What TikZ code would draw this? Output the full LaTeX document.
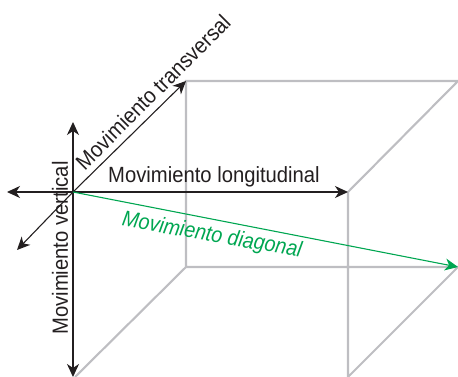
\documentclass[tikz,border=0pt]{standalone}
\usepackage{fontspec}
\setmainfont{Liberation Sans}
\usetikzlibrary{positioning, arrows.meta}
\definecolor{boxgray}{RGB}{190,190,194}
\definecolor{movegreen}{RGB}{0,166,81}
\definecolor{moveblack}{RGB}{35,31,32}
\tikzset{
    edgebox/.style={draw=boxgray, line width=2.1pt},
    move/.style={draw=moveblack, line width=1.1pt, -{Stealth[length=13pt,width=12pt,inset=4pt]}},
    movegr/.style={draw=movegreen, line width=1.1pt, -{Stealth[length=13pt,width=12pt,inset=4pt]}},
    lbl/.style={inner sep=0pt, font=\fontsize{22}{22}\selectfont, xscale=0.92, text=moveblack}
}
\begin{document}
\begin{tikzpicture}[x=1pt,y=-1pt]
\useasboundingbox (0,0) rectangle (458,377);
\coordinate (o) at (73,192);
\coordinate (left) at (7,192);
\coordinate (up) at (73,122);
\coordinate (down) at (73,377);
\coordinate (front) at (17,250);
\coordinate (backtl) at (186,81);
\coordinate (backtr) at (458,81);
\coordinate (backbl) at (186,267);
\coordinate (backbr) at (458,267);
\coordinate (fronttr) at (348,192);
\coordinate (frontbr) at (348,377);
\coordinate (frontbl) at (75,377);
\draw[edgebox] (backtr) -- (backtl) -- (backbl) -- (backbr) -- (frontbr) -- (fronttr) -- (backtr);
\draw[edgebox] (backbl) -- (frontbl);
\draw[move] (o) -- (left);
\draw[move] (o) -- (up);
\draw[move] (o) -- (down);
\draw[move] (o) -- (front);
\draw[move] (o) -- (backtl);
\draw[move] (o) -- (fronttr);
\draw[movegr] (o) -- (backbr);
\node[lbl] (longi) at (214,177) {Movimiento longitudinal};
\node[rotate=90, lbl] (verti) at (60,248) {Movimiento vertical};
\node[rotate=45, lbl] (trans) at (153,92) {Movimiento transversal};
\node[rotate=-10, lbl, text=movegreen, font=\fontsize{22}{22}\selectfont\itshape, xscale=0.98] (diag) at (212,236) {Movimiento diagonal};
\end{tikzpicture}
\end{document}
